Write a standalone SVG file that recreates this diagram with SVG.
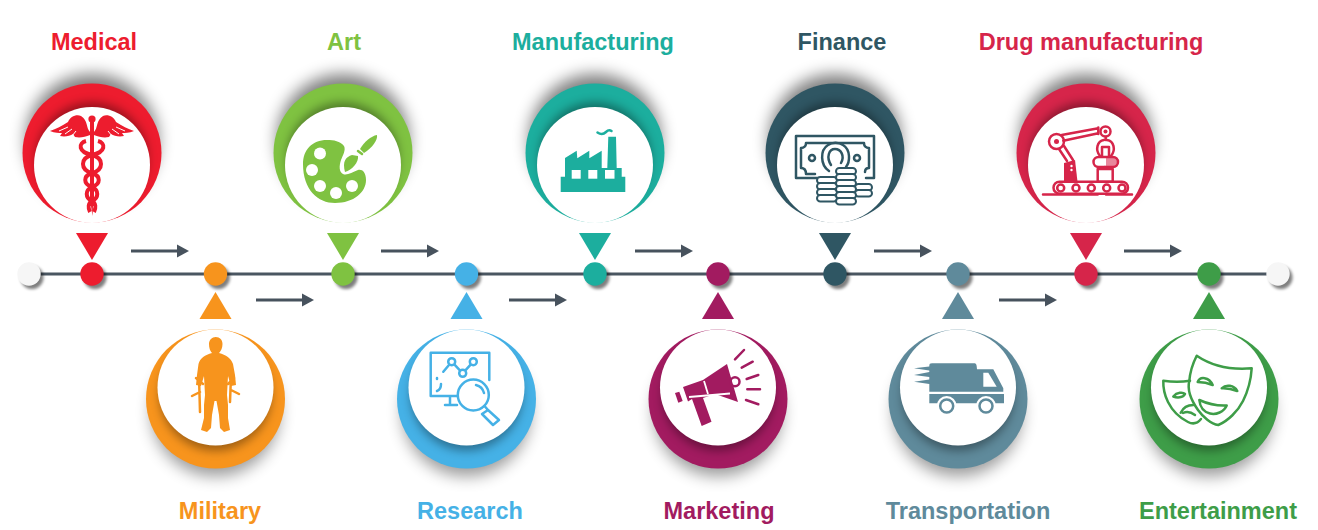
<svg xmlns="http://www.w3.org/2000/svg" width="1318" height="530" viewBox="0 0 1318 530">
<style>
text{font-family:"Liberation Sans",Arial,sans-serif;font-weight:700;font-size:23.5px;text-anchor:middle;fill:currentColor}
.cf{fill:currentColor;stroke:none}
.ln{fill:none;stroke:currentColor;stroke-width:2.5;stroke-linecap:round;stroke-linejoin:round}
.hole{fill:#fff;stroke:none}
.coin{fill:#fff;stroke:currentColor;stroke-width:2}
.c1{color:#ed1c2e}.c2{color:#f7941d}.c3{color:#7fc241}.c4{color:#45b1e6}.c5{color:#1cae9e}
.c6{color:#a21b60}.c7{color:#2f5663}.c8{color:#5f8a9b}.c9{color:#d6254a}.c10{color:#3e9d48}
</style>
<defs>
<filter id="b8" x="-40%" y="-40%" width="180%" height="180%"><feGaussianBlur stdDeviation="8"/></filter>
<filter id="b4" x="-30%" y="-30%" width="160%" height="160%"><feGaussianBlur stdDeviation="5"/></filter>
<filter id="b2" x="-60%" y="-60%" width="220%" height="220%"><feGaussianBlur stdDeviation="1.8"/></filter>
<clipPath id="clipTop"><circle cx="0" cy="153" r="69.5"/></clipPath>
<clipPath id="clipBot"><circle cx="0" cy="399" r="69.5"/></clipPath>
<g id="top">
<circle cy="140" r="66" fill="#000" opacity=".5" filter="url(#b8)"/>
<circle cy="153" r="69.5" class="cf"/>
<g clip-path="url(#clipTop)"><circle cy="158" r="56" fill="#000" opacity=".35" filter="url(#b4)"/></g>
<circle cy="165" r="58" fill="#fff"/>
<path d="M-16,233H16L0,260Z" class="cf"/>
<circle cx="3" cy="277.500" r="11.500" fill="#000" opacity=".5" filter="url(#b2)"/>
<circle cy="274" r="11.700" class="cf"/>
</g>
<g id="bot">
<circle cy="412" r="64" fill="#000" opacity=".4" filter="url(#b8)"/>
<circle cy="399" r="69.500" class="cf"/>
<g clip-path="url(#clipBot)"><circle cy="395" r="56" fill="#000" opacity=".35" filter="url(#b4)"/></g>
<circle cy="387.500" r="58" fill="#fff"/>
<path d="M-16,319H16L0,292Z" class="cf"/>
<circle cx="3" cy="277.500" r="11.500" fill="#000" opacity=".5" filter="url(#b2)"/>
<circle cy="274" r="11.700" class="cf"/>
</g>
<g id="wing">
<path d="M90,132C86,128 88,120 81,116C76,114 70,117 68,122C62,126 56,129 50,131C55,133 59,133 62,133L60,136C65,137 70,136 73,134L75,137C80,138 85,137 90,135Z" class="cf"/>
<path d="M68,127L59,131M72,129L65,134M76,131L72,136" stroke="#fff" stroke-width="1" fill="none"/>
</g>
<path id="snake" d="M86,141C78,143 78,152 92,155C104,158 104,170 92,173C83,176 83,184 92,187C99,190 99,198 92,201C88,203 88,208 90,212" fill="none" stroke="currentColor" stroke-width="4"/>
<rect id="coinA" width="20" height="6.600" rx="3.300" class="coin"/>
<rect id="coinB" width="17" height="6.600" rx="3.300" class="coin"/>
<g id="arrow"><path d="M0,0H47" stroke="#47525d" stroke-width="3.200" fill="none"/><path d="M46,-6.500L58,0L46,6.500Z" fill="#47525d"/></g>
</defs>
<rect width="1318" height="530" fill="#fff"/>

<g id="connectors">
<path d="M29,274H1278" stroke="#4a5661" stroke-width="3" fill="none"/>
<use href="#arrow" x="131" y="251"/>
<use href="#arrow" x="381" y="251"/>
<use href="#arrow" x="635" y="251"/>
<use href="#arrow" x="874" y="251"/>
<use href="#arrow" x="1124" y="251"/>
<use href="#arrow" x="256" y="300"/>
<use href="#arrow" x="509" y="300"/>
<use href="#arrow" x="999" y="300"/>
</g>

<g id="end-left">
<circle cx="32" cy="277.500" r="11.500" fill="#000" opacity=".5" filter="url(#b2)"/>
<circle cx="29" cy="274" r="11.700" fill="#f6f6f6"/>
</g>
<g id="end-right">
<circle cx="1281" cy="277.500" r="11.500" fill="#000" opacity=".5" filter="url(#b2)"/>
<circle cx="1278" cy="274" r="11.700" fill="#f6f6f6"/>
</g>

<g id="node-medical" class="c1">
<use href="#top" x="92"/>
<use href="#wing"/>
<use href="#wing" transform="matrix(-1 0 0 1 184 0)"/>
<rect x="90" y="122" width="4" height="84" class="cf"/>
<path d="M91,206H93L92.500,216Z" class="cf"/>
<circle cx="92" cy="119" r="3.600" class="cf"/>
<use href="#snake"/>
<use href="#snake" transform="matrix(-1 0 0 1 184 0)"/>
<text x="94" y="50">Medical</text>
</g>

<g id="node-military" class="c2">
<use href="#bot" x="215.500"/>
<path d="M215.700,337C220,337 222.500,340 222.500,344C222.500,348 221,351 219,353C226,355 231,358 233,364L235,375L236,385L231,386L228,376L227,395L228,405V418L230,430L224,432L220,428L219,415L216.500,401H214.500L212,415L211,428L207,432L201,430L204,418V405L205,395L204,376L201,386L196,385L197,375L198.500,364C200,358 205,355 212,353C210,351 209,348 209,344C209,340 212,337 215.700,337Z" class="cf"/>
<path d="M199,376L200,412M200,392L192,396M196,378L203,384M231,376L230,402M231,390L239,394M234,378L228,384" class="ln" stroke-width="3"/>
<text x="220" y="519">Military</text>
</g>

<g id="node-art" class="c3">
<use href="#top" x="343"/>
<path d="M327,140C312,140 303,150 303,164C303,190 318,203 335,203C354,203 366,192 366,180C366,172 362,169 358,170C352,172 347,176 343,174C339,172 339,166 341,160C343,155 346,150 344,146C340,141 334,140 327,140Z" class="cf"/>
<circle cx="320" cy="153.500" r="6" class="hole"/>
<circle cx="312" cy="170" r="6" class="hole"/>
<circle cx="320" cy="186" r="6" class="hole"/>
<circle cx="336" cy="193" r="6" class="hole"/>
<circle cx="352" cy="186" r="6" class="hole"/>
<path d="M345,172C342,161 346,157 352,155L358,156C359,162 352,170 345,172Z" class="cf"/>
<path d="M360,149C364,142 371,136 377,135C378,140 372,148 364,153Z" class="cf"/>
<path d="M358,151L362,154" class="ln"/>
<text x="344" y="50">Art</text>
</g>

<g id="node-research" class="c4">
<use href="#bot" x="466.500"/>
<g class="ln">
<path d="M489.300,380V352.700H430.700V396H457M450,396V405M445,405H457"/>
<path d="M443.300,371.700L451.700,361.700L462.700,373.300L473.300,361.700"/>
<circle cx="451.700" cy="361.700" r="3.500" fill="#fff"/>
<circle cx="462.700" cy="373.300" r="3.500" fill="#fff"/>
<circle cx="473.300" cy="361.700" r="3.500" fill="#fff"/>
<circle cx="473.300" cy="395" r="15.500" fill="#fff"/>
<path d="M476,385C480,386 483,389 484,393"/>
<path d="M484.500,406L488,410M488,410L482,414L493,425L499,420Z"/>
<path d="M437,378V379M441,384C441,388 440,390 437,391"/>
</g>
<text x="470" y="519">Research</text>
</g>

<g id="node-manufacturing" class="c5">
<use href="#top" x="595"/>
<path d="M560.700,176.700H565V158L576.700,150.700L577.300,158.300L589.300,150.700V158.300L601.700,150.700V168H607.300L608.300,136.700H616L616.700,168H621.700V176.700H625.300V192H560.700Z" class="cf"/>
<rect x="571.700" y="170" width="9" height="8.700" class="hole"/>
<rect x="588.300" y="170" width="9" height="8.700" class="hole"/>
<rect x="605" y="170" width="9.500" height="8.700" class="hole"/>
<path d="M597.500,132.500C601,135 604,134 606,132C608,130 610,130 611.500,131" class="ln" stroke-width="1.800"/>
<text x="593" y="50">Manufacturing</text>
</g>

<g id="node-marketing" class="c6">
<use href="#bot" x="718"/>
<path d="M683,387L703,380L727,364L738,402L715,394L703,398L711.500,421.700L701.700,426L692,399L688,401.500Z" class="cf"/>
<path d="M675,393L679.300,391.700L682.700,401L678.300,402.700Z" class="cf" stroke="currentColor"/>
<path d="M689,397L730,393.500" stroke="#fff" stroke-width="1.800" fill="none"/>
<path d="M704,381L708,394" stroke="#fff" stroke-width="1.800" fill="none"/>
<circle cx="735" cy="381.700" r="4.500" class="ln"/>
<path d="M735,359.300L744,350M741.700,367.700L752.700,361.700M746.700,379L758.300,375M747.300,389.300H760M746,400L758.300,404.300" class="ln"/>
<text x="719" y="519">Marketing</text>
</g>

<g id="node-finance" class="c7">
<use href="#top" x="835"/>
<g class="ln" stroke-width="2">
<path d="M818,178H796V136H874V178H866"/>
<path d="M815,174H806C806,170 804,168 801,168V148C804,148 806,146 806,143H864C864,146 866,148 869,148V168C866,168 865,170 865,172"/>
<circle cx="812" cy="158" r="3"/>
<circle cx="857" cy="158" r="3"/>
<path d="M829,171C820,165 820,150 828,145C832,142 839,142 843,145C851,150 850,162 846,167"/>
<path d="M831,165C826,157 829,149 835,149C841,149 845,156 841,163"/>
</g>
<use href="#coinA" x="817" y="177"/><use href="#coinA" x="817" y="183"/><use href="#coinA" x="817" y="189"/><use href="#coinA" x="817" y="195"/>
<use href="#coinB" x="855" y="184"/><use href="#coinB" x="855" y="190"/>
<use href="#coinA" x="836" y="168"/><use href="#coinA" x="836" y="174"/><use href="#coinA" x="836" y="180"/><use href="#coinA" x="836" y="186"/><use href="#coinA" x="836" y="192"/><use href="#coinA" x="836" y="198"/>
<text x="842" y="50">Finance</text>
</g>

<g id="node-transportation" class="c8">
<use href="#bot" x="958"/>
<path d="M929.300,366C929.300,364 930,363.300 932,363.300H974C976,363.300 976.700,364 977,369.300H993.300L1003.300,388.300V391.700H929.300V384L914,381.700L929.300,379.500V377L914,375L929.300,372V370.500L914,368.300L929.300,366.500Z" class="cf"/>
<path d="M983.300,372.700H988.300L996.700,386.700H983.300Z" class="hole"/>
<path d="M929.300,394H1004V403.300H929.300Z" class="cf"/>
<circle cx="946.700" cy="406" r="10" class="hole"/><circle cx="986" cy="406" r="10" class="hole"/>
<circle cx="946.700" cy="406" r="6.500" class="ln" stroke-width="3"/><circle cx="986" cy="406" r="6.500" class="ln" stroke-width="3"/>
<text x="968" y="519">Transportation</text>
</g>

<g id="node-drug-manufacturing" class="c9">
<use href="#top" x="1086"/>
<g class="ln" stroke-width="2">
<circle cx="1056.500" cy="141.500" r="7.500"/>
<path d="M1061.700,135L1098.300,128.300M1063.300,140.700L1098.300,133.300M1098.300,127.500V134"/>
<circle cx="1105.500" cy="131.500" r="5"/>
<path d="M1059,149L1067,161M1064,146L1073,160"/>
<path d="M1105.700,137V140M1100,156C1095,150 1097,141 1104,140M1111,156C1116,150 1114,141 1107,140"/>
<path d="M1102,157V147H1109V157"/>
<rect x="1093.500" y="157" width="24.500" height="10" rx="5" fill="#fff"/>
<path d="M1097.700,169H1112.700V181.700H1097.700ZM1105,167V169"/>
<rect x="1053.500" y="181.700" width="74.500" height="12" rx="6"/>
<path d="M1043,194.500H1097.700M1106,194.500H1132"/>
</g>
<circle cx="1056.500" cy="141.500" r="2.500" class="cf"/>
<circle cx="1105.500" cy="131.500" r="2" class="cf"/>
<path d="M1106,157H1113C1116,157 1118,159 1118,162C1118,165 1116,167 1113,167H1106Z" class="cf" opacity=".55"/>
<path d="M1064,163L1075,160L1077.500,181.700H1064Z" class="cf"/>
<circle cx="1071.500" cy="166" r="1.200" class="hole"/><circle cx="1071.500" cy="170" r="1.200" class="hole"/>
<g class="ln" stroke-width="2"><circle cx="1060.700" cy="188" r="3.500"/><circle cx="1076" cy="188" r="3.500"/><circle cx="1091.300" cy="188" r="3.500"/><circle cx="1106.700" cy="188" r="3.500"/><circle cx="1122" cy="188" r="3.500"/></g>
<text x="1091" y="50">Drug manufacturing</text>
</g>

<g id="node-entertainment" class="c10">
<use href="#bot" x="1209"/>
<g class="ln">
<path d="M1190,380.700C1182,382 1172,382 1163.300,380.700C1163,390 1165,396 1168,402C1172,410 1180,418 1188,422C1192,424 1197,424 1201,419"/>
<path d="M1196.700,355.700C1212,366 1232,370 1251.700,368.300C1251,380 1247,393 1243,401C1238,411 1228,421 1218.300,425C1211,424 1203,417 1198,410C1191,400 1187,390 1189.300,381C1190,372 1193,363 1196.700,355.700Z"/>
<path d="M1197.700,382C1200,376 1209,377 1212.700,385C1208,383 1203,382 1197.700,382Z"/>
<path d="M1221.700,388.300C1226,384 1234,385 1237.300,391C1232,389 1227,388 1221.700,388.300Z"/>
<path d="M1199.300,400C1208,404 1218,406 1226.700,405.500C1224,412 1216,415 1210,413.500C1204,412 1200,407 1199.300,400Z"/>
<path d="M1173.300,396.500C1177,392 1183,392 1185,394C1183,398 1177,398 1173.300,396.500Z"/>
<path d="M1180.700,412.700C1183,408 1188,405 1193.300,405M1183,413C1187,411 1191,412 1195,415"/>
</g>
<text x="1218" y="519">Entertainment</text>
</g>
</svg>
